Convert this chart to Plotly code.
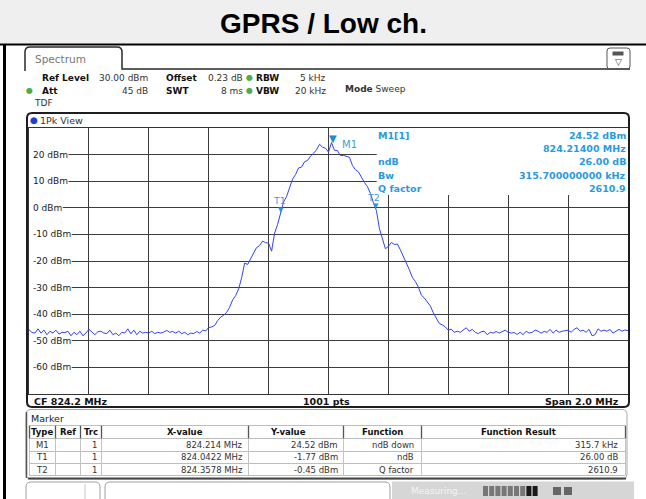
import math
import plotly.graph_objects as go

# ---------------- data ----------------
title_text = "GPRS / Low ch."

center_mhz = 824.2
span_mhz = 2.0
ref_level_dbm = 30.0
bottom_level_dbm = -70.0
x_divisions = 10
y_div_db = 10
sweep_points_label = "1001 pts"

# trace levels (dBm) at 0.01 MHz steps, 823.20 ... 825.20 MHz
level_left_dbm = [
    -45.8, -46.9, -47.1, -45.5, -47.1, -46.0, -47.7, -46.4, -47.1, -46.0,
    -47.5, -46.8, -46.9, -46.4, -48.1, -46.8, -47.7, -46.4, -48.1, -47.1,
    -45.7, -46.8, -47.7, -46.6, -46.4, -47.1, -47.3, -46.0, -47.7, -47.1,
    -48.1, -46.8, -47.1, -45.5, -47.4, -46.0, -47.7, -46.4, -47.1, -46.8,
    -47.1, -46.4, -47.3, -46.8, -47.1, -46.7, -46.1, -46.8, -46.5, -47.1,
    -46.4, -47.3, -46.8, -47.7, -47.1, -47.3, -46.5, -47.1, -46.0, -46.3,
]
level_signal_dbm = [
    -45.0, -44.8, -44.2, -42.4, -41.1, -40.4, -39.3, -37.4, -34.6, -33.0,
    -30.5, -26.3, -20.8, -21.3, -19.2, -17.5, -14.9, -14.2, -12.5, -13.1,
    -13.3, -16.3, -9.5, -6.3, -1.77, 2.2, 4.2, 7.8, 10.8, 12.5,
    15.0, 15.3, 17.3, 17.8, 19.4, 20.5, 21.8, 23.9, 22.8, 22.4,
    20.9, 24.52, 21.6, 21.5, 19.6, 19.7, 19.2, 19.0, 15.9, 14.3,
    13.5, 11.4, 9.5, 8.0, 5.4, 1.9, -1.0, -7.8, -12.0, -15.4,
    -14.5, -13.0, -13.8, -13.6, -15.8, -18.2, -21.0, -23.3, -26.2, -27.7,
    -29.8, -32.8, -33.9, -35.4, -36.9, -39.5, -41.7, -43.5, -44.0, -44.8,
    -46.0, -45.6, -46.8,
]
level_right_dbm = [
    -46.4, -46.8, -46.0, -45.1, -46.4, -45.7, -46.8, -47.3, -46.6, -46.4,
    -47.7, -46.8, -47.1, -46.5, -47.1, -46.4, -46.0, -46.8, -47.1, -46.9,
    -47.6, -46.8, -47.7, -46.4, -47.1, -46.8, -46.0, -46.4, -47.1, -46.5,
    -46.8, -45.7, -47.1, -46.0, -46.8, -46.4, -46.2, -46.0, -46.8, -45.7,
    -45.1, -46.4, -46.0, -46.8, -45.7, -48.1, -47.7, -45.5, -46.4, -46.0,
    -46.4, -45.7, -47.1, -46.3, -45.7, -46.4, -45.9, -46.2,
]
level_dbm = level_left_dbm + level_signal_dbm + level_right_dbm

y_label_levels = [20, 10, 0, -10, -20, -30, -40, -50, -60]

marker_names = ["M1", "T1", "T2"]
marker_freq_mhz = [824.214, 824.0422, 824.3578]
marker_level_dbm = [24.52, -1.77, -0.45]

info_labels = ["M1[1]", "", "ndB", "Bw", "Q factor"]
info_values = ["24.52 dBm", "824.21400 MHz", "26.00 dB", "315.700000000 kHz", "2610.9"]

header_row1 = [("Ref Level", "30.00 dBm"), ("Offset", "0.23 dB"), ("RBW", "5 kHz")]
header_row2 = [("Att", "45 dB"), ("SWT", "8 ms"), ("VBW", "20 kHz")]

table_header = ["Type", "Ref", "Trc", "X-value", "Y-value", "Function", "Function Result"]
table_type = ["M1", "T1", "T2"]
table_trc = ["1", "1", "1"]
table_x = ["824.214 MHz", "824.0422 MHz", "824.3578 MHz"]
table_y = ["24.52 dBm", "-1.77 dBm", "-0.45 dBm"]
table_function = ["ndB down", "ndB", "Q factor"]
table_result = ["315.7 kHz", "26.00 dB", "2610.9"]

# ---------------- geometry ----------------
W, H = 646, 499
PL, PR, PT, PB = 29, 628, 128, 394
f_start = center_mhz - span_mhz / 2
f_stop = center_mhz + span_mhz / 2
n_pts = len(level_dbm)
freq_mhz = [f_start + span_mhz * i / (n_pts - 1) for i in range(n_pts)]

FONT = "DejaVu Sans"
BLUE_TXT = "#2a9ae0"
TRACE = "#3442f2"
GRID = "#3c3c3c"
BOX_L, BOX_B = 376.7, 195  # marker info box (pixels)


def xp(px):
    return (px - PL) / (PR - PL)


def yp(py):
    return (PB - py) / (PB - PT)


def ypix(level):
    return PT + (ref_level_dbm - level) / (ref_level_dbm - bottom_level_dbm) * (PB - PT)


def xpix(f):
    return PL + (f - f_start) / span_mhz * (PR - PL)


def crisp(p):
    return math.floor(p) + 0.5


shapes = []
anns = []


def text(s, px, py, anchor="left", size=9, color="#222", bold=False, family=FONT):
    anns.append(dict(text=f"<b>{s}</b>" if bold else s, x=xp(px), y=yp(py),
                     xref="paper", yref="paper", xanchor=anchor, yanchor="middle",
                     showarrow=False, borderpad=0,
                     font=dict(size=size, color=color, family=family)))


def rect(px0, py0, px1, py1, fill=None, line=None, lw=1, layer="above"):
    shapes.append(dict(type="rect", xref="paper", yref="paper",
                       x0=xp(px0), x1=xp(px1), y0=yp(py1), y1=yp(py0),
                       fillcolor=fill or "rgba(0,0,0,0)",
                       line=dict(color=line or "rgba(0,0,0,0)", width=lw if line else 0),
                       layer=layer))


def seg(px0, py0, px1, py1, color, lw=1, layer="above"):
    shapes.append(dict(type="line", xref="paper", yref="paper",
                       x0=xp(px0), x1=xp(px1), y0=yp(py0), y1=yp(py1),
                       line=dict(color=color, width=lw), layer=layer))


def path(cmds, color, lw=1, fill=None):
    parts = []
    for c in cmds:
        op, coords = c[0], c[1:]
        pts = []
        for k in range(0, len(coords), 2):
            pts.append(f"{xp(coords[k]):.5f},{yp(coords[k + 1]):.5f}")
        parts.append(op + " " + " ".join(pts))
    shapes.append(dict(type="path", xref="paper", yref="paper", path=" ".join(parts),
                       line=dict(color=color, width=lw),
                       fillcolor=fill or "rgba(0,0,0,0)", layer="above"))


def rrect(x0, y0, x1, y1, r, color, lw=1, fill=None):
    path([("M", x0 + r, y0), ("L", x1 - r, y0), ("Q", x1, y0, x1, y0 + r),
          ("L", x1, y1 - r), ("Q", x1, y1, x1 - r, y1), ("L", x0 + r, y1),
          ("Q", x0, y1, x0, y1 - r), ("L", x0, y0 + r), ("Q", x0, y0, x0 + r, y0), ("Z",)],
         color, lw, fill)


# ---------------- page frame / title ----------------
rect(0, 0, W, 43.5, fill="#efefef", layer="below")
seg(0, 44.5, W, 44.5, "#000", 2)
seg(4.5, 44, 4.5, H, "#000", 3)
text(title_text, 323, 23, anchor="center", size=28, color="#000", bold=True, family="Liberation Sans")

# ---------------- Spectrum tab + header ----------------
path([("M", 25, 71), ("L", 25, 52), ("Q", 25, 47, 30, 47), ("L", 117, 47),
      ("Q", 122, 47, 122, 52), ("L", 122, 69), ("L", 630, 69)], "#2a2a2a", 1.5)
text("Spectrum", 34, 59.5, size=10.5, color="#777")
rrect(607, 48, 630, 69, 3, "#555", 1)
rect(612.5, 51.5, 623.5, 55.5, fill="#555")
text("▽", 618, 61.5, anchor="center", size=9, color="#444")

col_lab = [40.5, 165, 255]
col_val = [148.5, 244, 327]
row_y = [77.5, 90.5]
for r, row in enumerate([header_row1, header_row2]):
    for c, (lab, val) in enumerate(row):
        text(lab, col_lab[c], row_y[r], size=9, color="#111", bold=True)
        text(val, col_val[c], row_y[r], anchor="right", size=9, color="#333")
for py in row_y:
    text("●", 249.5, py, anchor="center", size=8, color="#48b048")
text("●", 29.5, row_y[1], anchor="center", size=8, color="#48b048")
text("<b>Mode</b> Sweep", 344, 89, size=9, color="#333")
text("TDF", 33, 103, size=9, color="#333")

# ---------------- diagram frame ----------------
rrect(27, 113, 629, 407, 5, "#1e1e1e", 2)
text("●", 33.5, 120.5, anchor="center", size=9, color="#1d3fd6")
text("1Pk View", 39, 120.5, size=9.5, color="#333")

# grid: horizontal lines start after the level labels
cw = {" ": .318, "-": .361, "d": .635, "B": .686, "m": .974}
for v in y_label_levels:
    lab = f"{v} dBm"
    wpx = sum(cw.get(ch, .636) for ch in lab) * 9
    py = crisp(ypix(v))
    x_end = BOX_L if ypix(v) < BOX_B else PR
    seg(32 + wpx + 1.5, py, x_end, py, GRID, 1, layer="below")
    text(lab, 32, ypix(v), size=9, color="#1a1a1a")
for k in range(1, x_divisions):
    f = f_start + k * span_mhz / x_divisions
    px = crisp(xpix(f))
    y_top = BOX_B if px > BOX_L else PT
    seg(px, y_top, px, PB, GRID, 1, layer="below")

# marker info texts
info_y = [135, 148.3, 161.7, 175, 188.3]
for lab, val, py in zip(info_labels, info_values, info_y):
    if lab:
        text(lab, 377, py, size=9.5, color=BLUE_TXT, bold=True)
    text(val, 626.5, py, anchor="right", size=9.5, color=BLUE_TXT, bold=True)

# bottom line of diagram
text("CF 824.2 MHz", 32.5, 401, size=9.5, color="#111", bold=True)
text(sweep_points_label, 326.5, 401, anchor="center", size=9.5, color="#111", bold=True)
text("Span 2.0 MHz", 620, 401, anchor="right", size=9.5, color="#111", bold=True)

# marker symbols on trace
for name, f, lv in zip(marker_names, marker_freq_mhz, marker_level_dbm):
    big = name == "M1"
    anns.append(dict(text="▼", x=f, y=lv, xref="x", yref="y", xanchor="center", yanchor="bottom",
                     showarrow=False, borderpad=0, yshift=-2,
                     font=dict(size=10 if big else 7, color="#1c8ad8" if big else "#2a9ae0", family=FONT)))
    if big:
        anns.append(dict(text=name, x=f, y=lv, xref="x", yref="y", xanchor="left", yanchor="middle",
                         showarrow=False, borderpad=0, xshift=8, yshift=-2,
                         font=dict(size=10, color="#3aa0e0", family=FONT)))
    else:
        anns.append(dict(text=name, x=f, y=lv, xref="x", yref="y", xanchor="center", yanchor="middle",
                         showarrow=False, borderpad=0, xshift=-2, yshift=12,
                         font=dict(size=9.5, color="#3aa0e0", family=FONT)))

# ---------------- marker table ----------------
rrect(26, 409.5, 627, 479, 5, "#a8a8a8", 1)
seg(26.5, 412, 26.5, 478, "#555", 1.5)
seg(28, 478.5, 626, 478.5, "#444", 2)
text("Marker", 29.5, 418.5, size=9.5, color="#222")
col_edges = [29, 55, 80, 101.7, 248.3, 343.3, 421.7, 625]
row_lines = [425.7, 438.3, 451, 463.3, 475.7]
for py in row_lines:
    seg(29, crisp(py), 625, crisp(py), "#bdbdbd", 1)
for px in col_edges:
    seg(crisp(px), 438.3, crisp(px), 475.7, "#c4c4c4", 1)
    seg(crisp(px), 425.7, crisp(px), 438.3, "#555", 1.3)
head_cx = [42, 67.5, 91, 185, 288, 382, 518]
for h, cx in zip(table_header, head_cx):
    text(h, cx, 432, anchor="center", size=8.5, color="#111", bold=True)
row_cy = [444.7, 457, 469.5]
for i, cy in enumerate(row_cy):
    text(table_type[i], 42, cy, anchor="center", size=8.5, color="#333")
    text(table_trc[i], 98, cy, anchor="right", size=8.5, color="#333")
    text(table_x[i], 243.5, cy, anchor="right", size=8.5, color="#333")
    text(table_y[i], 338.5, cy, anchor="right", size=8.5, color="#333")
    text(table_function[i], 415, cy, anchor="right", size=8.5, color="#333")
    text(table_result[i], 618.5, cy, anchor="right", size=8.5, color="#333")

# ---------------- status bar ----------------
rrect(26, 482, 100, 508, 5, "#a0a0a0", 1)
seg(85, 484, 85, 499, "#c8c8c8", 1)
rrect(105, 482, 390, 508, 5, "#a0a0a0", 1)
rect(392, 481.5, 634, 499, fill="#d6d6d6")
text("Measuring...", 410, 490.5, size=9, color="#f4f4f4")
bx = 483
for k in range(9):
    rect(bx, 486, bx + 5, 496, fill="#1a1a1a" if k >= 7 else "#777")
    bx += 6.2
rect(553, 487, 561, 495, fill="#666")
rect(564, 487, 572, 495, fill="#666")

# ---------------- figure ----------------
fig = go.Figure()
fig.add_trace(go.Scatter(x=freq_mhz, y=level_dbm, mode="lines",
                         line=dict(color=TRACE, width=1), hoverinfo="skip"))

fig.update_layout(
    width=W, height=H,
    margin=dict(l=PL, r=W - PR, t=PT, b=H - PB, pad=0),
    paper_bgcolor="white", plot_bgcolor="white",
    showlegend=False,
    xaxis=dict(range=[f_start, f_stop], showgrid=False, showticklabels=False, ticks="",
               zeroline=False, showline=True, mirror=True, linecolor="#333", linewidth=1,
               fixedrange=True),
    yaxis=dict(range=[bottom_level_dbm, ref_level_dbm], showgrid=False, showticklabels=False,
               ticks="", zeroline=False, showline=True, mirror=True, linecolor="#333",
               linewidth=1, fixedrange=True),
    shapes=shapes,
    annotations=anns,
)

fig.write_html("out.html", config={"displayModeBar": False},
               post_script="document.body.style.margin='0px';")
